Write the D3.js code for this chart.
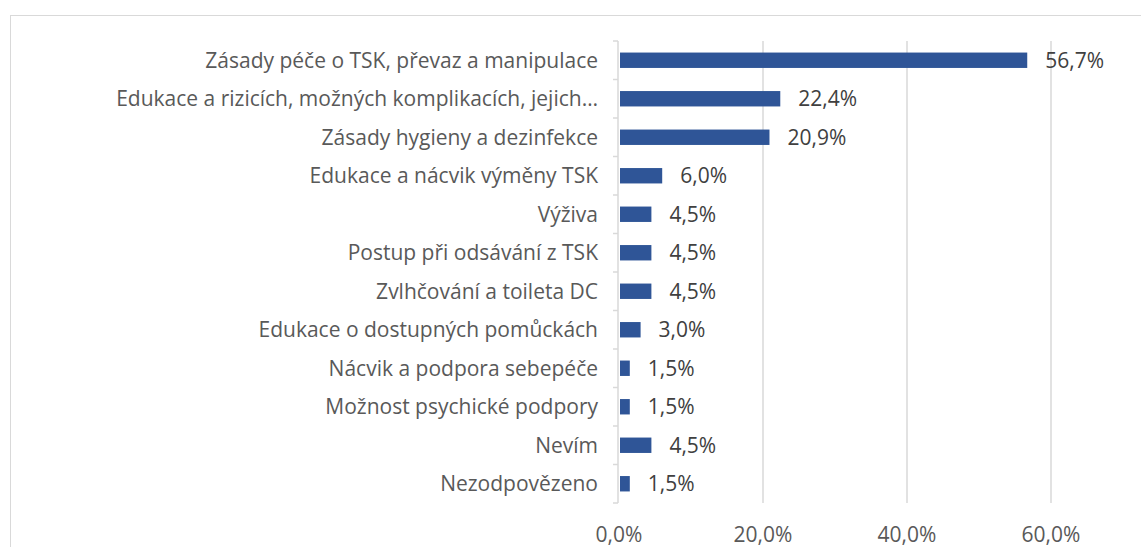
<!DOCTYPE html>
<html>
<head>
<meta charset="utf-8">
<script src="https://cdn.jsdelivr.net/npm/d3@7"></script>
<style>
  body { margin: 0; background: #fff; }
  text { font-family: "Open Sans", Lato, sans-serif; }
</style>
</head>
<body>
<svg id="chart" width="1141" height="547"></svg>
<script>
// categories and values (percent of respondents)
var categories = [
    "Zásady péče o TSK, převaz a manipulace",
    "Edukace a rizicích, možných komplikacích, jejich…",
    "Zásady hygieny a dezinfekce",
    "Edukace a nácvik výměny TSK",
    "Výživa",
    "Postup při odsávání z TSK",
    "Zvlhčování a toileta DC",
    "Edukace o dostupných pomůckách",
    "Nácvik a podpora sebepéče",
    "Možnost psychické podpory",
    "Nevím",
    "Nezodpovězeno"
];
var values = [56.7, 22.4, 20.9, 6.0, 4.5, 4.5, 4.5, 3.0, 1.5, 1.5, 4.5, 1.5];
var xTicks = [0, 20, 40, 60];

var svg = d3.select("#chart");
var fmt = function(v) { return d3.format(".1f")(v).replace(".", ",") + "%"; };

// chart frame
svg.append("rect")
    .attr("x", 10.5).attr("y", 15.5)
    .attr("width", 1200).attr("height", 600)
    .attr("fill", "none")
    .attr("stroke", "#d9d9d9");

var x = d3.scaleLinear().domain([0, 60]).range([619, 1051]);
var y = d3.scaleBand().domain(categories).range([41, 503]).paddingInner(0.6).paddingOuter(0.3);

// gridlines
svg.append("g")
    .selectAll("line")
    .data(xTicks.slice(1))
    .enter()
    .append("line")
    .attr("x1", function(d) { return x(d); })
    .attr("x2", function(d) { return x(d); })
    .attr("y1", 41).attr("y2", 503)
    .attr("stroke", "#d9d9d9")
    .attr("stroke-width", 1.5);

// category axis line + separators
svg.append("line")
    .attr("x1", x(0) - 1).attr("x2", x(0) - 1)
    .attr("y1", 41).attr("y2", 503)
    .attr("stroke", "#d9d9d9").attr("stroke-width", 1.5);
svg.append("g")
    .selectAll("line")
    .data(d3.range(categories.length + 1))
    .enter()
    .append("line")
    .attr("x1", x(0) - 6).attr("x2", x(0) - 1)
    .attr("y1", function(i) { return 41 + i * 462 / categories.length; })
    .attr("y2", function(i) { return 41 + i * 462 / categories.length; })
    .attr("stroke", "#d9d9d9").attr("stroke-width", 1.5);

// bars
svg.append("g")
    .selectAll("rect")
    .data(values)
    .enter()
    .append("rect")
    .attr("x", x(0) + 1)
    .attr("y", function(d, i) { return y(categories[i]); })
    .attr("width", function(d) { return x(d) - x(0) - 1; })
    .attr("height", y.bandwidth())
    .attr("fill", "#2f5597");

// value labels
svg.append("g")
    .selectAll("text")
    .data(values)
    .enter()
    .append("text")
    .attr("x", function(d) { return x(d) + 18; })
    .attr("y", function(d, i) { return y(categories[i]) + y.bandwidth() / 2; })
    .attr("dy", "0.35em")
    .attr("font-size", 21)
    .attr("fill", "#404040")
    .text(fmt);

// category labels
svg.append("g")
    .selectAll("text")
    .data(categories)
    .enter()
    .append("text")
    .attr("x", x(0) - 21)
    .attr("y", function(d) { return y(d) + y.bandwidth() / 2; })
    .attr("dy", "0.35em")
    .attr("text-anchor", "end")
    .attr("font-size", 21)
    .attr("fill", "#595959")
    .text(function(d) { return d; });

// x tick labels
svg.append("g")
    .selectAll("text")
    .data(xTicks)
    .enter()
    .append("text")
    .attr("x", function(d) { return x(d); })
    .attr("y", 535)
    .attr("dy", "0.35em")
    .attr("text-anchor", "middle")
    .attr("font-size", 21)
    .attr("fill", "#595959")
    .text(fmt);
</script>
</body>
</html>
